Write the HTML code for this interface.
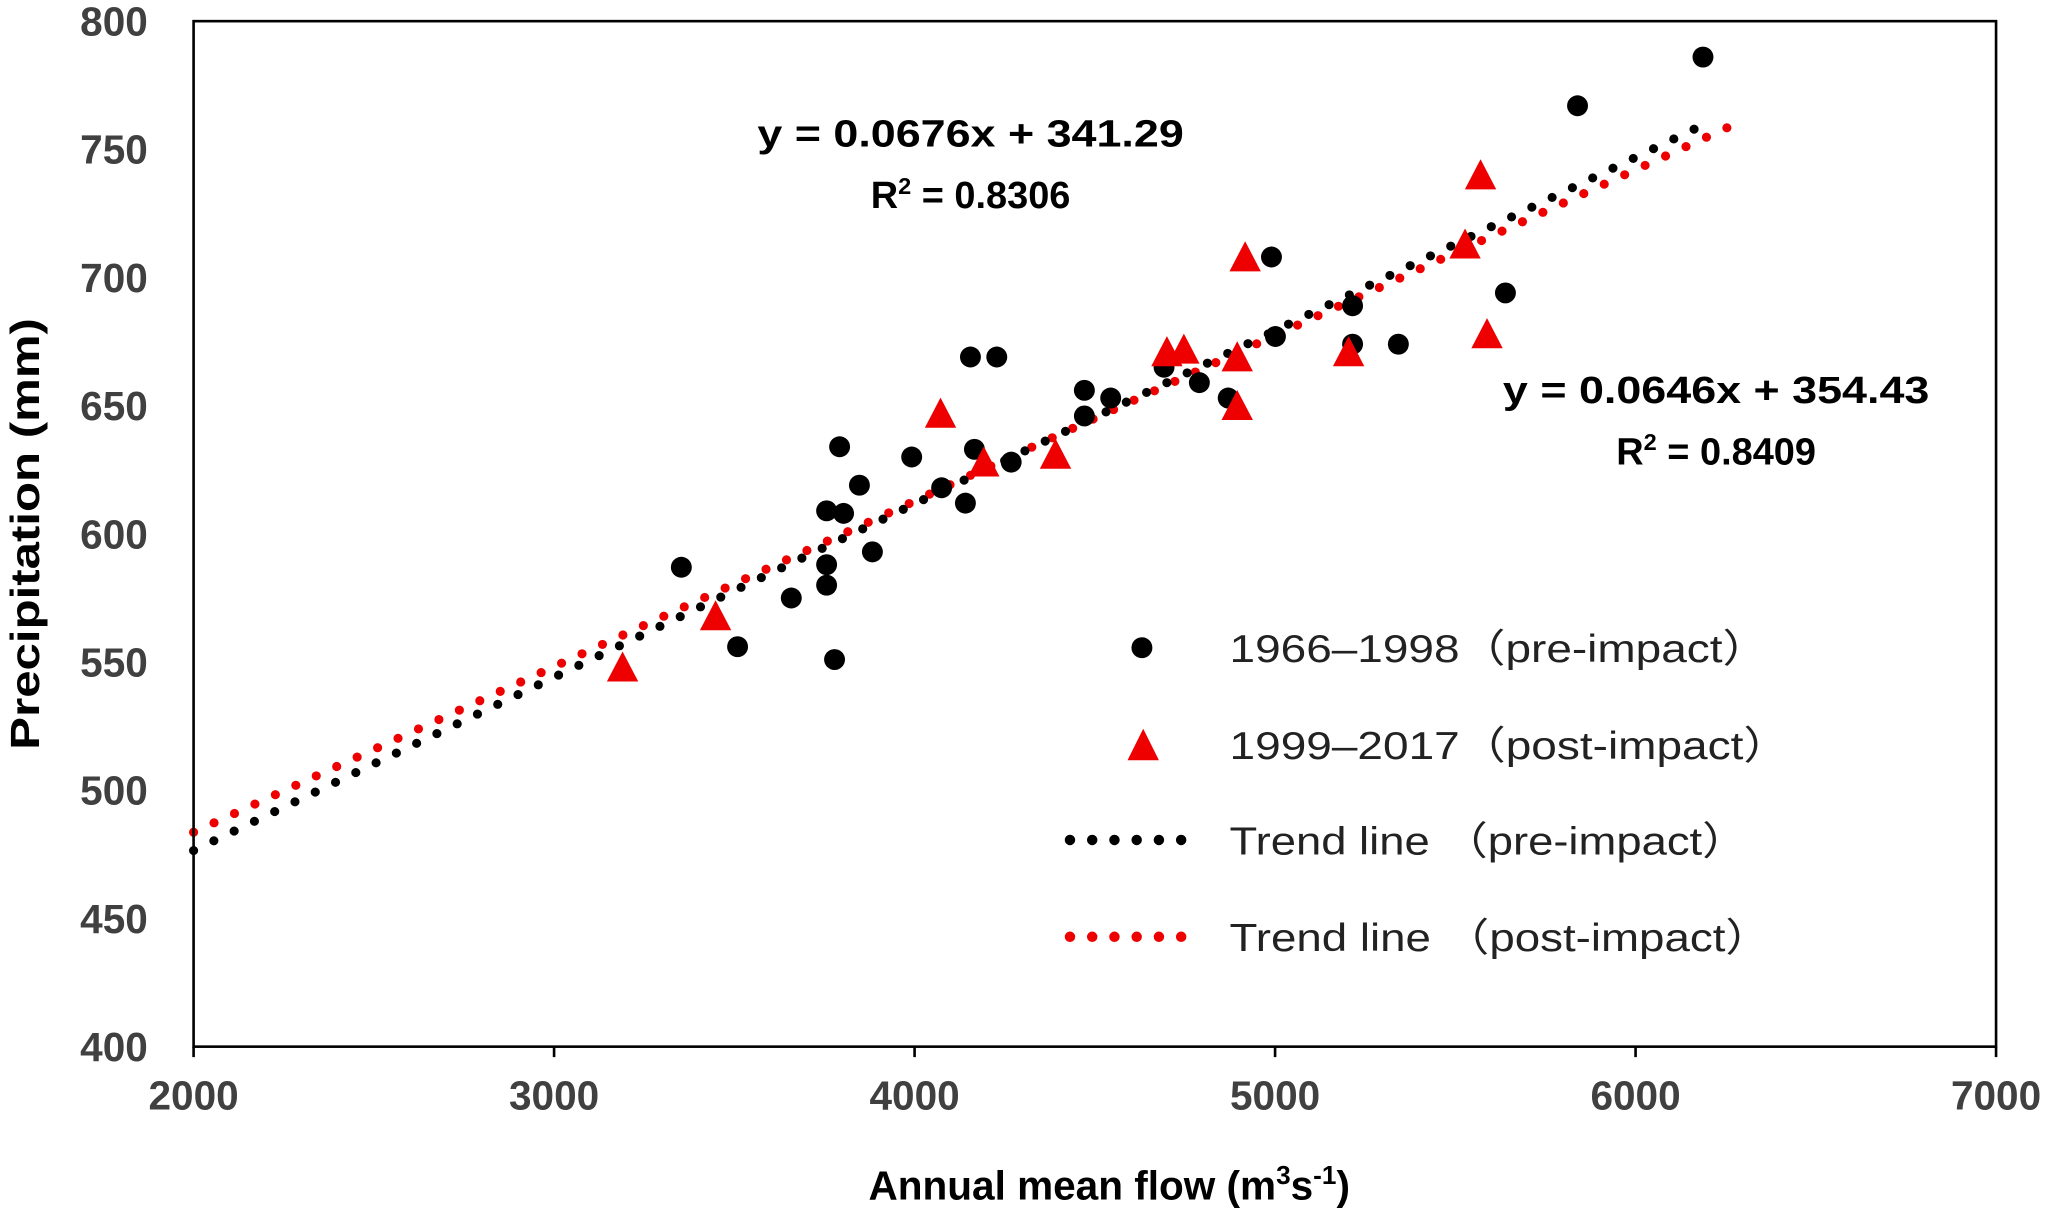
<!DOCTYPE html>
<html><head><meta charset="utf-8"><style>
html,body{margin:0;padding:0;background:#fff;}
svg{display:block;}
text{font-family:"Liberation Sans",sans-serif;}
</style></head><body>
<svg id="chart" width="2051" height="1213" viewBox="0 0 1568 927" xmlns="http://www.w3.org/2000/svg">
<g id="grid"></g>
<g id="marks"></g>
<rect x="148" y="16" width="1378" height="784" fill="none" stroke="#000" stroke-width="2"/>
<text transform="translate(30,408) rotate(-90)" text-anchor="middle" font-size="31" font-weight="bold" fill="#000" textLength="330" lengthAdjust="spacingAndGlyphs">Precipitation (mm)</text>
<text x="848" y="917" text-anchor="middle" font-size="31" font-weight="bold" fill="#000">Annual mean flow (m<tspan font-size="20" dy="-12">3</tspan><tspan dy="12">s</tspan><tspan font-size="20" dy="-12">-1</tspan><tspan dy="12">)</tspan></text>
<text x="742" y="112" text-anchor="middle" font-size="29" font-weight="bold" textLength="326" lengthAdjust="spacingAndGlyphs">y = 0.0676x + 341.29</text>
<text x="742" y="159" text-anchor="middle" font-size="29" font-weight="bold">R<tspan font-size="18" dy="-11">2</tspan><tspan dy="11"> = 0.8306</tspan></text>
<text x="1312" y="308" text-anchor="middle" font-size="29" font-weight="bold" textLength="326" lengthAdjust="spacingAndGlyphs">y = 0.0646x + 354.43</text>
<text x="1312" y="355" text-anchor="middle" font-size="29" font-weight="bold">R<tspan font-size="18" dy="-11">2</tspan><tspan dy="11"> = 0.8409</tspan></text>
<g font-size="30" fill="#222">
<circle cx="873" cy="495" r="8" fill="#000"/>
<text x="940" y="506" textLength="412" lengthAdjust="spacingAndGlyphs">1966–1998（pre-impact）</text>
<polygon points="874,557 886,581 862,581" fill="#e00"/>
<text x="940" y="580" textLength="428" lengthAdjust="spacingAndGlyphs">1999–2017（post-impact）</text>
<line x1="818" y1="642" x2="920" y2="642" stroke="#000" stroke-width="8" stroke-linecap="round" stroke-dasharray="0 17"/>
<text x="940" y="653" textLength="396" lengthAdjust="spacingAndGlyphs">Trend line （pre-impact）</text>
<line x1="818" y1="716" x2="920" y2="716" stroke="#e00" stroke-width="8" stroke-linecap="round" stroke-dasharray="0 17"/>
<text x="940" y="727" textLength="414" lengthAdjust="spacingAndGlyphs">Trend line （post-impact）</text>
</g>
</svg>
<script>
const xTicks = [2000,3000,4000,5000,6000,7000];
const yTicks = [400,450,500,550,600,650,700,750,800];
const preX = [6187,5839,4990,5639,5215,5001,5215,5342,4155,4228,4692,4790,4471,4544,4870,4471,3792,4166,3992,4268,3847,4075,4141,3756,3803,3883,3353,3756,3658,3756,3509,3778];
const preY = [786,767,708,694,689,677,674,674,669,669,665,659,656,653,653,646,634,633,630,628,619,618,612,609,608,593,587,588,575,580,556,551];
const postX = [5570,4917,5527,4700,4747,4895,4895,5204,5588,4072,4192,4391,3448,3190];
const postY = [739,707,712,670,671,668,649,670,677,646,627,630,567,547];
const trendPre = [0.0676,341.29,2000,6200];
const trendPost = [0.0646,354.43,2000,6270];
const NS='http://www.w3.org/2000/svg';
const sx = v => 148 + (v-2000)*1378/5000;
const sy = v => 800 - (v-400)*784/400;
const grid=document.getElementById('grid'), marks=document.getElementById('marks');
function mk(tag,attrs,parent){const e=document.createElementNS(NS,tag);for(const k in attrs)e.setAttribute(k,attrs[k]);parent.appendChild(e);return e;}
xTicks.forEach(t=>{
  const l=mk('line',{x1:sx(t),x2:sx(t),y1:800,y2:808,stroke:'#000','stroke-width':2},grid);
  
  
  const tx=mk('text',{x:sx(t),y:848,'text-anchor':'middle','font-size':31,'font-weight':'bold',fill:'#404040'},grid);
  tx.textContent=t;
  
  
});
yTicks.forEach(t=>{
  const tx=mk('text',{x:113,y:sy(t)+11,'text-anchor':'end','font-size':31,'font-weight':'bold',fill:'#404040'},grid);
  tx.textContent=t;
  
  
});
function trend(p,color,name){
  const l=mk('line',{x1:sx(p[2]),y1:sy(p[0]*p[2]+p[1]),x2:sx(p[3]),y2:sy(p[0]*p[3]+p[1]),stroke:color,'stroke-width':7,'stroke-linecap':'round','stroke-dasharray':'0 17.2'},marks);
  
  
}
trend(trendPost,'#e00','trend-line-post');
trend(trendPre,'#000','trend-line-pre');
preX.forEach((x,i)=>{
  const c=mk('circle',{cx:sx(x),cy:sy(preY[i]),r:8,fill:'#000'},marks);
  
  
});
postX.forEach((x,i)=>{
  const cx=sx(x), cy=sy(postY[i]);
  const p=mk('polygon',{points:`${cx},${cy-14} ${cx+12},${cy+9} ${cx-12},${cy+9}`,fill:'#e00'},marks);
  
  
});
</script>
</body></html>
